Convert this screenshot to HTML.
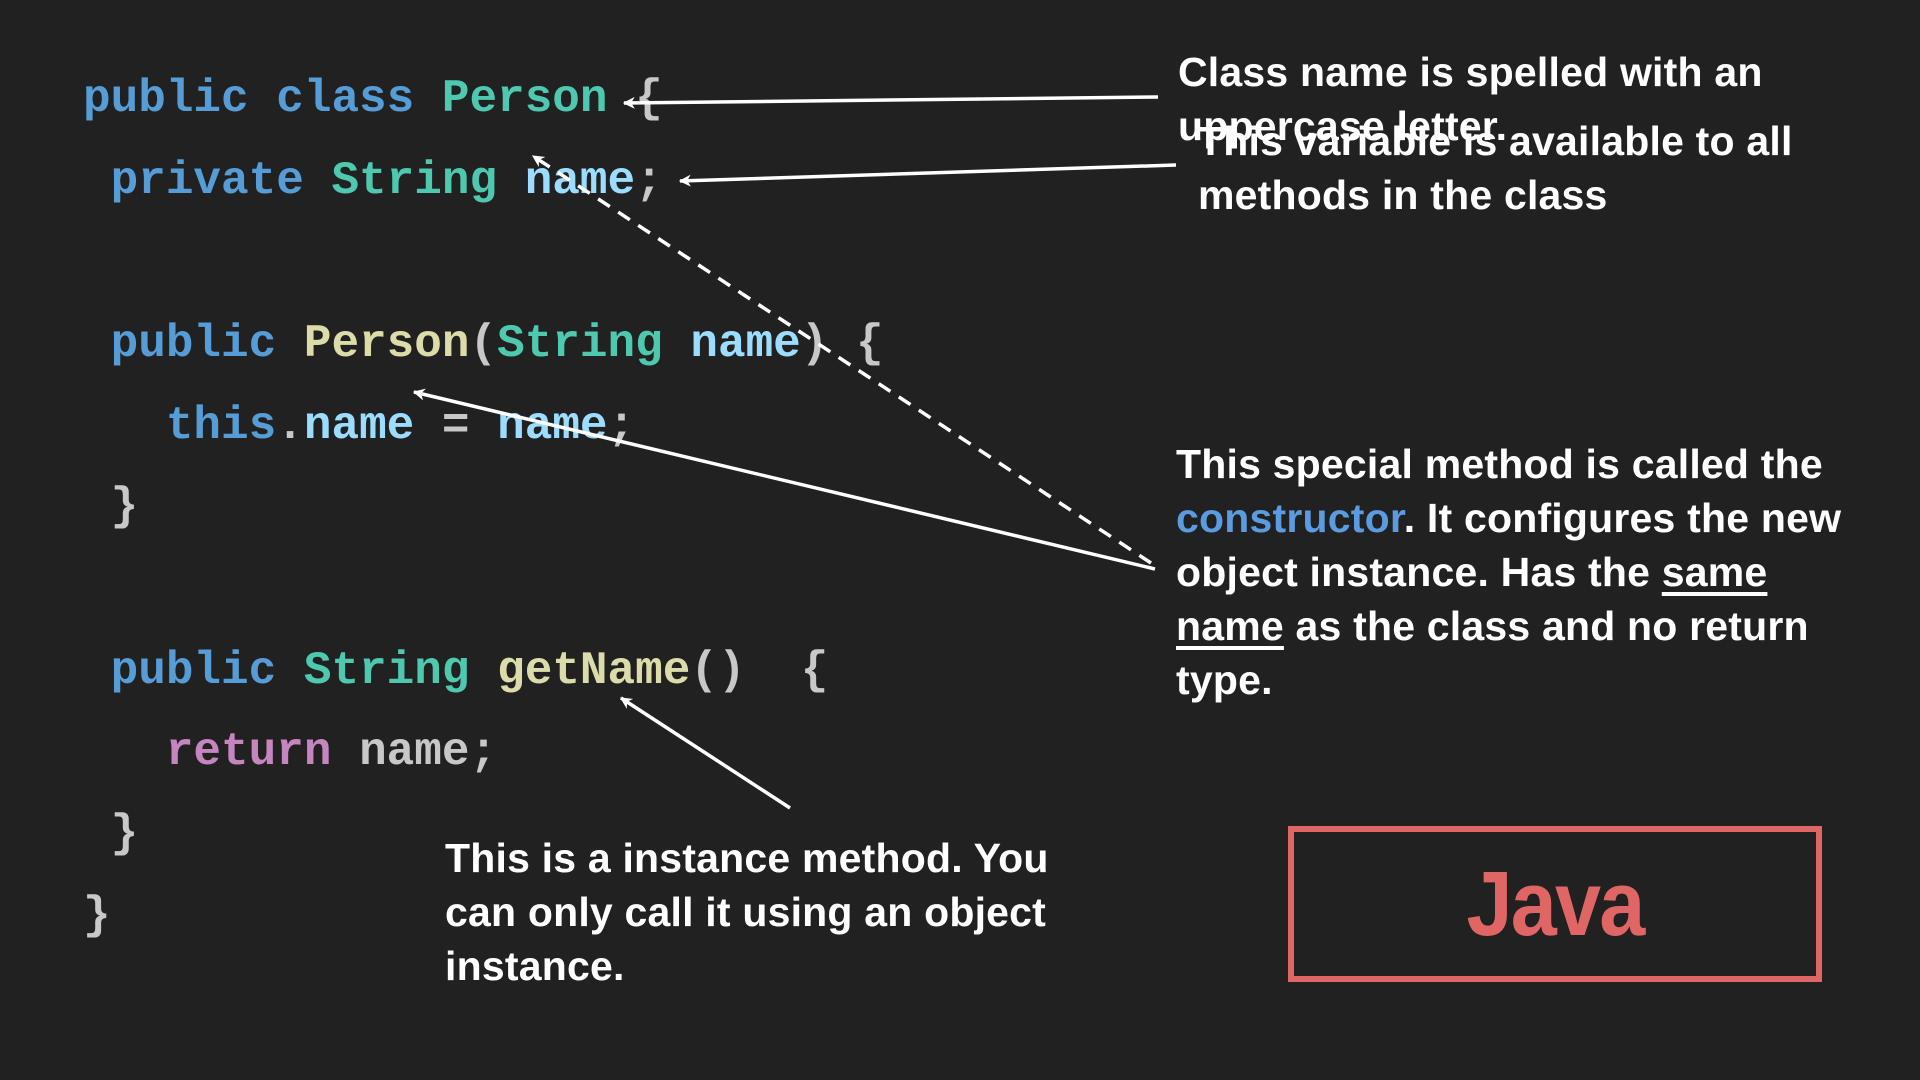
<!DOCTYPE html>
<html><head><meta charset="utf-8"><style>
body{margin:0;width:1920px;height:1080px;background:#212121;overflow:hidden;position:relative}
.c{position:absolute;font:bold 46px "Liberation Mono",monospace;white-space:pre;color:#d4d4d4;line-height:1}
.k{color:#569cd6}.t{color:#4ec9b0}.v{color:#9cdcfe}.f{color:#dcdcaa}.r{color:#c586c0}.p{color:#c8c8c8}
.a{position:absolute;font:bold 41px "Liberation Sans",sans-serif;color:#fff;line-height:54px;letter-spacing:0.2px;white-space:nowrap}
u{text-decoration:underline;text-underline-offset:6px}
</style></head><body>
<div class="c" style="left:83px;top:76px"><span class="k">public class</span> <span class="t">Person</span> <span class="p">{</span></div>
<div class="c" style="left:83px;top:158px"> <span class="k">private</span> <span class="t">String</span> <span class="v">name</span><span class="p">;</span></div>
<div class="c" style="left:83px;top:321px"> <span class="k">public</span> <span class="f">Person</span><span class="p">(</span><span class="t">String</span> <span class="v">name</span><span class="p">) {</span></div>
<div class="c" style="left:83px;top:403px">   <span class="k">this</span><span class="p">.</span><span class="v">name</span> <span class="p">=</span> <span class="v">name</span><span class="p">;</span></div>
<div class="c" style="left:83px;top:484px"> <span class="p">}</span></div>
<div class="c" style="left:83px;top:648px"> <span class="k">public</span> <span class="t">String</span> <span class="f">getName</span><span class="p">()  {</span></div>
<div class="c" style="left:83px;top:729px">   <span class="r">return</span> <span class="p">name;</span></div>
<div class="c" style="left:83px;top:811px"> <span class="p">}</span></div>
<div class="c" style="left:83px;top:893px"><span class="p">}</span></div>

<div class="a" style="left:1178px;top:45px">Class name is spelled with an<br>uppercase letter.</div>
<div class="a" style="left:1198px;top:114px">This variable is available to all<br>methods in the class</div>
<div class="a" style="left:1176px;top:437px">This special method is called the<br><span style="color:#5b9be0">constructor</span>. It configures the new<br>object instance. Has the <u>same</u><br><u>name</u> as the class and no return<br>type.</div>
<div class="a" style="left:445px;top:831px">This is a instance method. You<br>can only call it using an object<br>instance.</div>

<div style="position:absolute;left:1288px;top:826px;width:522px;height:144px;border:6px solid #e06666"></div>
<div style="position:absolute;left:1288px;top:852px;width:534px;text-align:center;font:bold 92px 'Liberation Sans',sans-serif;color:#e06666;letter-spacing:-2px;transform:scaleX(0.9)">Java</div>

<svg width="1920" height="1080" style="position:absolute;left:0;top:0">
<defs><marker id="m" markerWidth="12" markerHeight="12" refX="9" refY="5" orient="auto" markerUnits="userSpaceOnUse" viewBox="0 0 10 10"><path d="M0,0L10,5L0,10L3,5z" fill="#fff"/></marker></defs>
<g stroke="#fff" stroke-width="3.5" fill="none" marker-end="url(#m)" >
<line x1="1158" y1="97" x2="624" y2="103"/>
<line x1="1176" y1="165" x2="680" y2="181"/>
<line x1="1151" y1="563" x2="533" y2="156" stroke-dasharray="14,10"/>
<line x1="1155" y1="569" x2="414" y2="392"/>
<line x1="790" y1="808" x2="621" y2="698"/>
</g>
</svg>
</body></html>
